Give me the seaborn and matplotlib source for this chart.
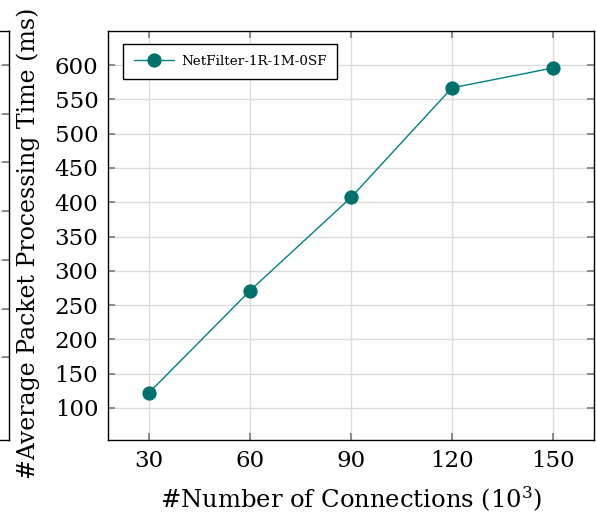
import matplotlib
matplotlib.use("Agg")
import matplotlib.pyplot as plt
import seaborn as sns
import pandas as pd

# Measured packet processing time per connection count
connections = [30, 60, 90, 120, 150]
avg_time_ms = [122, 271, 407, 567, 596]
series_name = "NetFilter-1R-1M-0SF"

x_ticks = [30, 60, 90, 120, 150]
y_ticks = [100, 150, 200, 250, 300, 350, 400, 450, 500, 550, 600]

df = pd.DataFrame({"connections": connections, "time": avg_time_ms, "series": series_name})

sns.set_theme(style="whitegrid")
plt.rcParams["font.family"] = ["DejaVu Serif"]
plt.rcParams["mathtext.fontset"] = "dejavuserif"
plt.rcParams["text.color"] = "black"
plt.rcParams["axes.labelcolor"] = "black"
plt.rcParams["xtick.labelcolor"] = "black"
plt.rcParams["ytick.labelcolor"] = "black"

fig = plt.figure(figsize=(5.96, 5.18), dpi=100)

grid_color = "#dcdcdc"
tick_color = "#7f7f7f"

# neighbouring panel, only its right edge falls inside the figure
ax_prev = fig.add_axes([-0.5, 0.1506, 0.5 + 8.5 / 596, 0.7896])
ax_prev.set_xlim(0, 1)
ax_prev.set_ylim(0, 8.4)
ax_prev.set_yticks([1.7, 2.7, 3.7, 4.7, 5.7, 6.7, 7.7])
ax_prev.set_xticks([])
ax_prev.tick_params(axis="y", which="both", left=False, right=True, direction="in",
                    length=5, color=tick_color, labelleft=False, labelright=False)
ax_prev.grid(True, axis="y", color=grid_color, linewidth=1)
for s in ax_prev.spines.values():
    s.set_color("black")
    s.set_linewidth(1)

ax = fig.add_axes([108 / 596, 0.1506, 486 / 596, 0.7896])
sns.lineplot(data=df, x="connections", y="time", hue="series",
             palette=["#008080"], marker="o", markersize=9.5,
             markerfacecolor="#00706b", markeredgecolor="#00706b",
             linewidth=1.0, ax=ax)

ax.set_xlim(17.8, 162.2)
ax.set_ylim(53, 650)
ax.set_xticks(x_ticks)
ax.set_yticks(y_ticks)
ax.set_xticklabels([str(v) for v in x_ticks], fontsize=16.5)
ax.set_yticklabels([str(v) for v in y_ticks], fontsize=16.5)
ax.tick_params(axis="both", which="both", direction="in", length=5, color=tick_color,
               top=True, right=True, bottom=True, left=True)
ax.tick_params(axis="x", pad=7)
ax.tick_params(axis="y", pad=7)
ax.grid(True, color=grid_color, linewidth=1)
for s in ax.spines.values():
    s.set_color("black")
    s.set_linewidth(1)

ax.set_xlabel("#Number of Connections (10$^3$)", fontsize=17.5, labelpad=9)
ax.set_ylabel("")
fig.text(28 / 596, 1 - 243 / 518, "#Average Packet Processing Time (ms)",
         rotation=90, ha="center", va="center", fontsize=17)

leg = ax.legend(loc="upper left", fontsize=9.7, frameon=True, fancybox=False,
                edgecolor="black", borderpad=0.8, handlelength=3, handletextpad=0.5,
                borderaxespad=0, bbox_to_anchor=(0.031, 0.968))
leg.get_frame().set_linewidth(1)
leg.get_frame().set_alpha(1)

fig.savefig("out.png", dpi=100)
